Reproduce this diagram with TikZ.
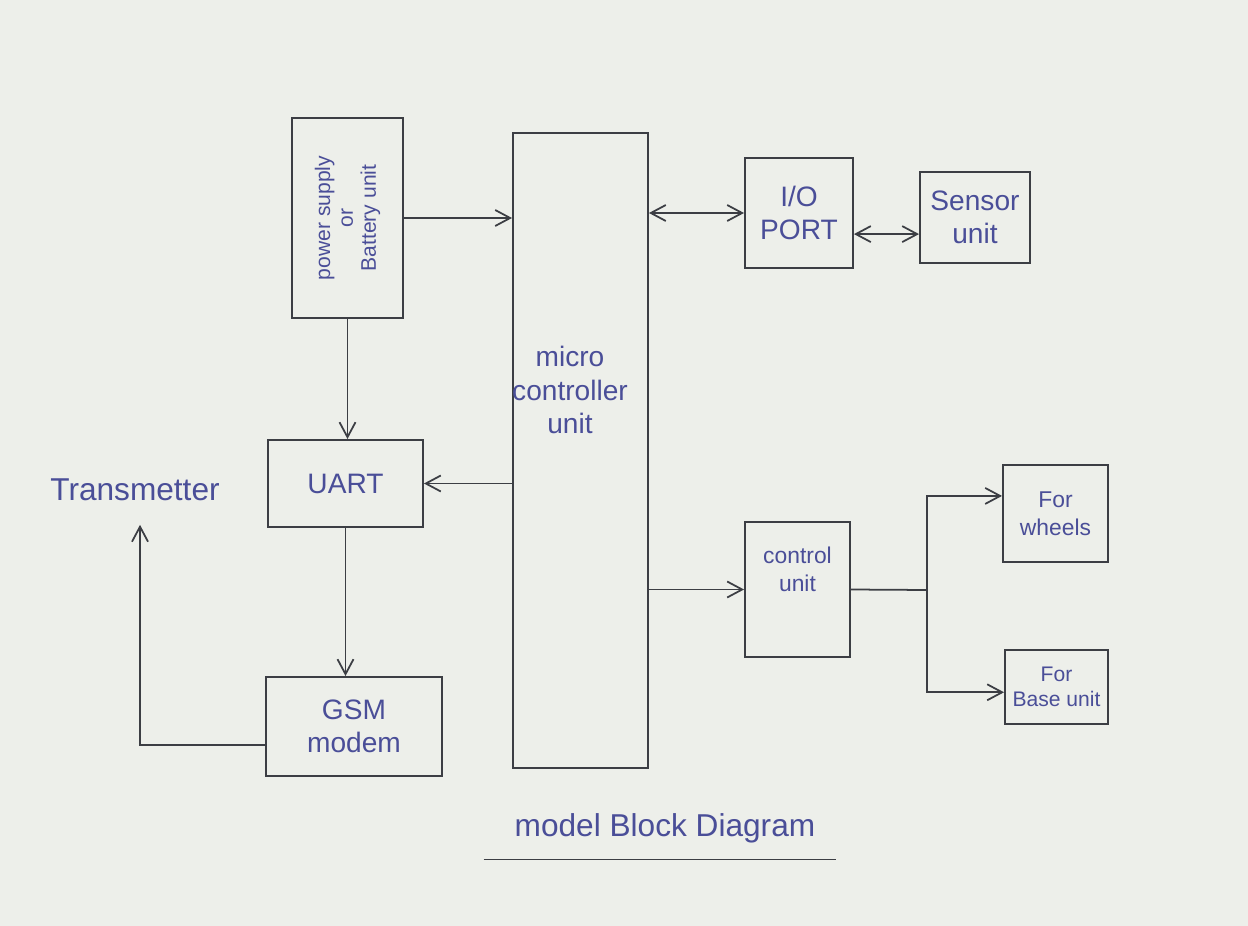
\documentclass[tikz,border=0pt]{standalone}
\usepackage{fontspec}
\setmainfont{Liberation Sans}
\usetikzlibrary{arrows.meta}
\definecolor{bdpaper}{HTML}{EDEFEA}
\definecolor{bdink}{HTML}{3C3E44}
\definecolor{bdpen}{HTML}{4A4E98}

\begin{document}
\begin{tikzpicture}[x=0.02cm,y=-0.02cm,
  blk/.style={draw=bdink,line width=1.1pt,text=bdpen,align=center,inner sep=2pt},
  lnk/.style={draw=bdink,line width=1pt,-{Straight Barb[length=3mm,width=3.2mm]}},
  lnk2/.style={lnk,{Straight Barb[length=3mm,width=3.2mm]}-{Straight Barb[length=3mm,width=3.2mm]}},
  wrt/.style={text=bdpen,font=\fontsize{16}{19}\selectfont}]
  \fill[bdpaper] (0,0) rectangle (1248,926);
  % blocks
  \node[blk,minimum width=2.22cm,minimum height=4cm,
    label={[rotate=90,text=bdpen,align=center,font=\fontsize{12}{13}\selectfont]center:power supply\\or\\Battery unit}] (power) at (347.5,218) {};
  \node[blk,minimum width=2.7cm,minimum height=12.7cm] (micro) at (580.5,450.5) {};
  \node[wrt,align=center] (microtxt) at (570,390) {micro\\controller\\unit};
  \node[blk,wrt,minimum width=2.16cm,minimum height=2.2cm] (io) at (799,213) {I/O\\PORT};
  \node[blk,wrt,minimum width=2.2cm,minimum height=1.82cm] (sensor) at (975,217.5) {Sensor\\unit};
  \node[blk,wrt,minimum width=3.1cm,minimum height=1.74cm] (uart) at (345.5,483.5) {UART};
  \node[blk,wrt,minimum width=3.52cm,minimum height=1.98cm] (gsm) at (354,726.5) {GSM\\modem};
  \node[blk,minimum width=2.1cm,minimum height=2.7cm,
    label={[text=bdpen,align=center,font=\fontsize{13}{16}\selectfont,yshift=0.4cm]center:control\\unit}] (ctrl) at (797.5,589.5) {};
  \node[blk,wrt,minimum width=2.1cm,minimum height=1.94cm,font=\fontsize{13}{16}\selectfont] (wheels) at (1055.5,513.5) {For\\wheels};
  \node[blk,wrt,minimum width=2.06cm,minimum height=1.48cm,font=\fontsize{12}{14}\selectfont] (base) at (1056.5,687) {For\\Base unit};
  \node[wrt,font=\fontsize{18}{21}\selectfont] (trans) at (135,490) {Transmetter};
  \node[wrt,font=\fontsize{18}{21}\selectfont] (title) at (665,828) {model Block Diagram};
  \draw[bdink,line width=1pt] ([xshift=-0.5cm,yshift=-6pt]title.south west) -- ([xshift=0.3cm,yshift=-6pt]title.south east);
  % connectors
  \coordinate (txbend) at (140,745);
  \coordinate (split) at (927,590);
  \draw[lnk] (power.east) -- (power.east -| micro.west);
  \draw[lnk] (power.south) -- (power.south |- uart.north);
  \draw[lnk] (micro.west |- uart.east) -- (uart.east);
  \draw[lnk] (uart.south) -- (uart.south |- gsm.north);
  \draw[lnk] (gsm.west |- txbend) -- (txbend) -- ([yshift=-10pt]txbend |- trans.south);
  \draw[lnk2] (micro.east |- io.west) -- (io.west);
  \draw[lnk2] ([yshift=-12pt]io.east) -- ([yshift=-12pt]io.east -| sensor.west);
  \draw[lnk] (micro.east |- ctrl.west) -- (ctrl.west);
  \draw[bdink,line width=1pt] (ctrl.east) -- (split);
  \draw[lnk] (split) |- ([yshift=10pt]wheels.west);
  \draw[lnk] (split) |- ([yshift=-3pt]base.west);
\end{tikzpicture}
\end{document}
